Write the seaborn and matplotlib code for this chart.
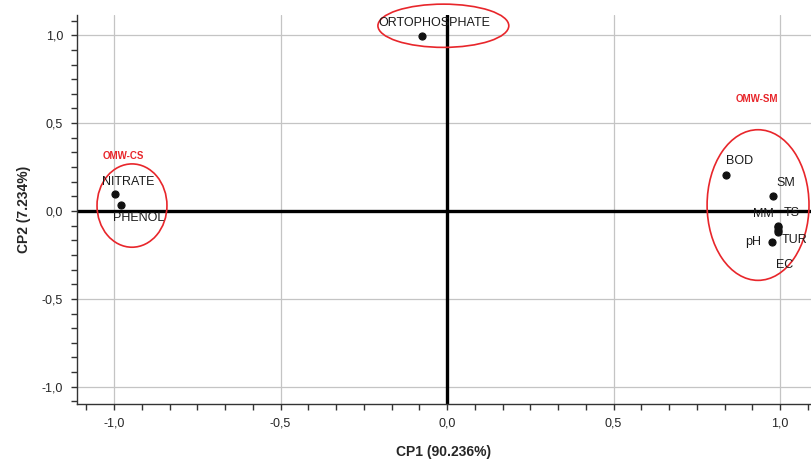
import matplotlib
matplotlib.use("Agg")
import matplotlib.pyplot as plt
from matplotlib.patches import Ellipse
from matplotlib.ticker import MultipleLocator, FuncFormatter
import seaborn as sns
import pandas as pd

variables = ["ORTOPHOSPHATE", "NITRATE", "PHENOL", "BOD", "SM", "MM", "TS", "TUR", "EC", "pH"]
cp1 = [-0.075, -0.997, -0.979, 0.838, 0.979, 0.993, 0.995, 0.995, 0.993, 0.976]
cp2 = [0.994, 0.097, 0.034, 0.206, 0.086, -0.088, -0.092, -0.108, -0.118, -0.177]
label_offsets = [(12, 13), (13, 12), (18, -13), (13, 14), (13, 13), (-14, 12), (13, 14), (16, -10), (7, -33), (-19, 0)]

group_names = ["OMW-CS", "OMW-SM"]
group_label_x = [-0.973, 0.931]
group_label_y = [0.314, 0.64]

ellipse_cx = [-0.011, -0.946, 0.934]
ellipse_cy = [1.054, 0.031, 0.034]
ellipse_w = [0.393, 0.21, 0.306]
ellipse_h = [0.246, 0.474, 0.857]

df = pd.DataFrame({"var": variables, "CP1": cp1, "CP2": cp2})

sns.set_style("white")
plt.rcParams["font.family"] = ["Liberation Sans", "DejaVu Sans"]

fig = plt.figure(figsize=(8.11, 4.61), dpi=100)
ax = fig.add_axes([0.095, 0.124, 0.905, 0.843])

ax.set_xlim(-1.111, 1.093)
ax.set_ylim(-1.097, 1.114)

ax.xaxis.set_major_locator(MultipleLocator(0.5))
ax.yaxis.set_major_locator(MultipleLocator(0.5))
ax.xaxis.set_minor_locator(MultipleLocator(1 / 12))
ax.yaxis.set_minor_locator(MultipleLocator(1 / 12))
fmt = FuncFormatter(lambda v, p: f"{v:.1f}".replace(".", ",").replace("\u2212", "-") if abs(v) > 1e-9 else "0,0")
ax.xaxis.set_major_formatter(fmt)
ax.yaxis.set_major_formatter(fmt)

ax.grid(True, which="major", color="#c4c4c4", linewidth=0.9)
ax.set_axisbelow(True)
for s in ["top", "right"]:
    ax.spines[s].set_visible(False)
for s in ["left", "bottom"]:
    ax.spines[s].set_color("#333333")
    ax.spines[s].set_linewidth(1.0)

ax.tick_params(which="both", direction="out", length=4, width=1, color="#333333",
               bottom=True, left=True, labelsize=9, pad=6)

ax.axhline(0, color="black", linewidth=2.4, zorder=2)
ax.axvline(0, color="black", linewidth=2.4, zorder=2)

sns.scatterplot(data=df, x="CP1", y="CP2", ax=ax, color="#111111", s=26,
                edgecolor="#111111", linewidth=0.8, zorder=4, legend=False)

for name, x, y, (dx, dy) in zip(variables, cp1, cp2, label_offsets):
    ax.annotate(name, (x, y), xytext=(dx, dy), textcoords="offset pixels",
                ha="center", va="center", fontsize=9, color="#1a1a1a", zorder=5)

for cx, cy, w, h in zip(ellipse_cx, ellipse_cy, ellipse_w, ellipse_h):
    ax.add_patch(Ellipse((cx, cy), w, h, fill=False, edgecolor="#e8262b",
                         linewidth=1.2, zorder=3, clip_on=False))

for name, x, y in zip(group_names, group_label_x, group_label_y):
    ax.text(x, y, name, color="#e8262b", fontsize=7, fontweight="bold",
            ha="center", va="center")

ax.set_xlabel("CP1 (90.236%)", fontsize=10, fontweight="bold", labelpad=11)
ax.set_ylabel("CP2 (7.234%)", fontsize=10, fontweight="bold", labelpad=8)

fig.savefig("out.png", dpi=100)
